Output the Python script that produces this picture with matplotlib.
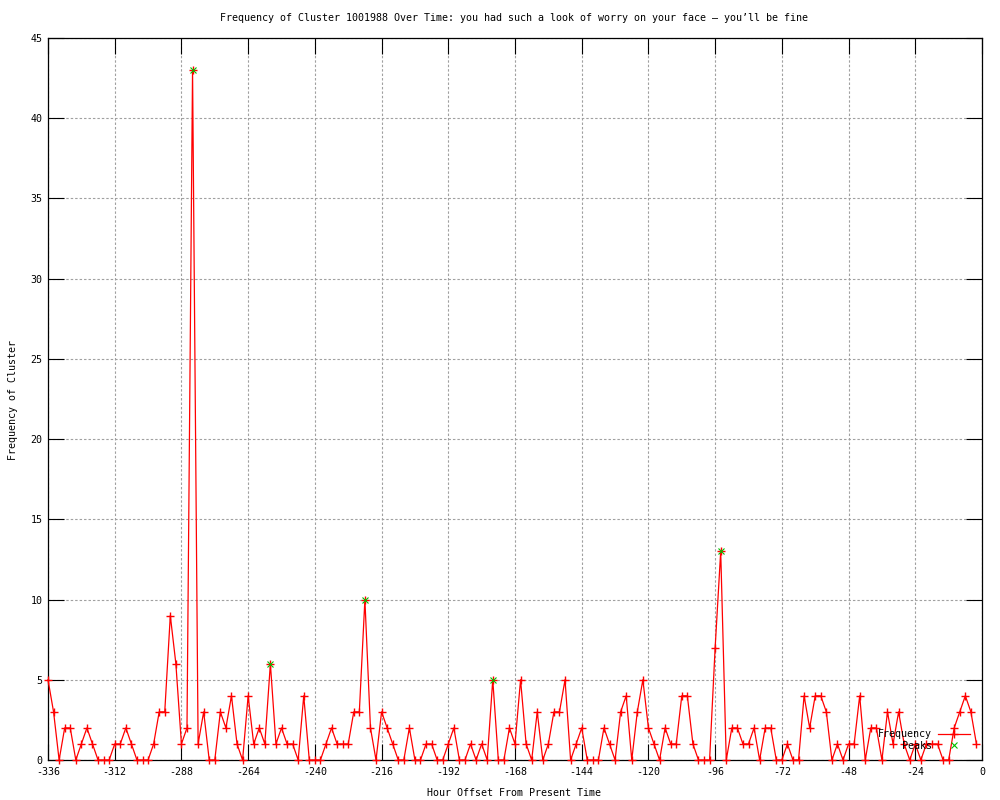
import numpy as np
import matplotlib.pyplot as plt
from matplotlib.lines import Line2D

# godziny co 2 h od -336 do -2
hours = np.arange(-336, 0, 2)
freq = [5, 3, 0, 2, 2, 0, 1, 2, 1, 0, 0, 0, 1, 1, 2, 1, 0, 0, 0, 1,
        3, 3, 9, 6, 1, 2, 43, 1, 3, 0, 0, 3, 2, 4, 1, 0, 4, 1, 2, 1,
        6, 1, 2, 1, 1, 0, 4, 0, 0, 0, 1, 2, 1, 1, 1, 3, 3, 10, 2, 0,
        3, 2, 1, 0, 0, 2, 0, 0, 1, 1, 0, 0, 1, 2, 0, 0, 1, 0, 1, 0,
        5, 0, 0, 2, 1, 5, 1, 0, 3, 0, 1, 3, 3, 5, 0, 1, 2, 0, 0, 0,
        2, 1, 0, 3, 4, 0, 3, 5, 2, 1, 0, 2, 1, 1, 4, 4, 1, 0, 0, 0,
        7, 13, 0, 2, 2, 1, 1, 2, 0, 2, 2, 0, 0, 1, 0, 0, 4, 2, 4, 4,
        3, 0, 1, 0, 1, 1, 4, 0, 2, 2, 0, 3, 1, 3, 1, 0, 1, 0, 1, 1,
        1, 0, 0, 2, 3, 4, 3, 1]
peak_hours = [-284, -256, -222, -176, -94]
peak_vals = [43, 6, 10, 5, 13]

xticks = np.arange(-336, 1, 24)
yticks = np.arange(0, 46, 5)

plt.rcParams['font.family'] = 'DejaVu Sans Mono'
plt.rcParams['font.size'] = 7.2
plt.rcParams['axes.unicode_minus'] = False

fig = plt.figure(figsize=(10, 8), dpi=100)
ax = fig.add_axes([0.048, 0.05, 0.934, 0.9025])

ax.plot(hours, freq, color='red', lw=0.9, marker='+', ms=5.5, mew=1.0, clip_on=False, zorder=3)
ax.plot(peak_hours, peak_vals, ls='none', color='#00c000', marker='x', ms=5, mew=0.8, clip_on=False, zorder=4)

ax.set_xlim(-336, 0)
ax.set_ylim(0, 45)
ax.set_xticks(xticks)
ax.set_yticks(yticks)
ax.tick_params(direction='in', length=11.5, width=0.8, top=True, right=True, color='black')
ax.tick_params(axis='x', pad=5)
ax.tick_params(axis='y', pad=4)
ax.grid(True, color='#a0a0a0', lw=0.8, ls=(0, (2.2, 1.8)))
for s in ax.spines.values():
    s.set_linewidth(0.9)

fig.text(0.514, 1 - 18 / 800, "Frequency of Cluster 1001988 Over Time: you had such a look of worry on your face \u2013 you\u2019ll be fine",
         ha='center', va='center')
fig.text(0.514, 1 - 793 / 800, "Hour Offset From Present Time", ha='center', va='center')
fig.text(0.013, 1 - 400 / 800, "Frequency of Cluster", ha='center', va='center', rotation=90)

handles = [Line2D([], [], color='red', lw=0.9, marker='+', ms=5.5, mew=1.0),
           Line2D([], [], ls='none', color='#00c000', marker='x', ms=5, mew=0.8)]
ax.legend(handles, ["Frequency", "Peaks"], loc='lower right', bbox_to_anchor=(0.995, 0.003),
          frameon=False, markerfirst=False, handlelength=3.2, handletextpad=0.6,
          labelspacing=0.15, borderpad=0.2)

fig.savefig('out.png', dpi=100)
